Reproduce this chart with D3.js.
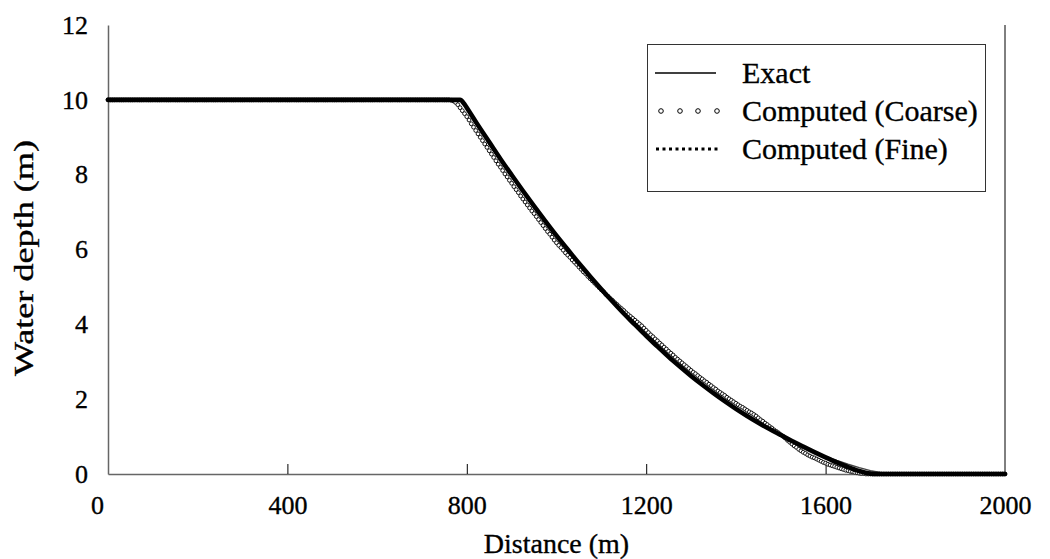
<!DOCTYPE html>
<html>
<head>
<meta charset="utf-8">
<script src="https://cdn.jsdelivr.net/npm/d3@7"></script>
<style>
  body { margin: 0; background: #fff; }
  svg { display: block; }
  text { font-family: "Liberation Serif", "Times New Roman", Times, serif; }
</style>
</head>
<body>
<svg id="drawing_region"></svg>
<script>
// x ticks / y ticks
const xTicks = [0, 400, 800, 1200, 1600, 2000];
const yTicks = [0, 2, 4, 6, 8, 10, 12];

// exact solution (thin line)
const exactX = [0, 789, 800, 825, 850, 875, 900, 925, 950, 975, 1000, 1025, 1050, 1075, 1100, 1125, 1150, 1175, 1200, 1225, 1250, 1275, 1300, 1325, 1350, 1375, 1400, 1425, 1450, 1475, 1500, 1525, 1550, 1575, 1600, 1625, 1650, 1675, 1700, 1725, 1748, 2000];
const exactH = [10, 10, 9.79, 9.32, 8.87, 8.42, 7.99, 7.57, 7.16, 6.76, 6.37, 6.00, 5.63, 5.28, 4.94, 4.61, 4.29, 3.99, 3.69, 3.41, 3.13, 2.87, 2.62, 2.385, 2.16, 1.945, 1.74, 1.55, 1.37, 1.20, 1.04, 0.88, 0.73, 0.59, 0.47, 0.36, 0.26, 0.17, 0.09, 0.035, 0, 0];

// computed, fine grid (dense black dots -> thick band)
const fineX = [0, 785, 795, 800, 825, 850, 875, 900, 925, 950, 975, 1000, 1025, 1050, 1075, 1100, 1125, 1150, 1175, 1200, 1225, 1250, 1275, 1300, 1325, 1350, 1375, 1400, 1425, 1450, 1475, 1500, 1525, 1550, 1575, 1600, 1625, 1650, 1675, 1700, 1710, 2000];
const fineH = [10, 10, 9.88, 9.79, 9.32, 8.87, 8.42, 7.99, 7.57, 7.16, 6.76, 6.37, 6.00, 5.63, 5.28, 4.94, 4.61, 4.29, 3.99, 3.69, 3.41, 3.13, 2.87, 2.62, 2.385, 2.16, 1.945, 1.74, 1.55, 1.37, 1.20, 1.04, 0.88, 0.73, 0.585, 0.445, 0.31, 0.185, 0.08, 0.01, 0, 0];

// computed, coarse grid: one value every 5 m from 0 to 2000
const coarseDx = 5;
const coarseH = [
  10, 10, 10, 10, 10, 10, 10, 10, 10, 10,   // 0
  10, 10, 10, 10, 10, 10, 10, 10, 10, 10,   // 50
  10, 10, 10, 10, 10, 10, 10, 10, 10, 10,   // 100
  10, 10, 10, 10, 10, 10, 10, 10, 10, 10,   // 150
  10, 10, 10, 10, 10, 10, 10, 10, 10, 10,   // 200
  10, 10, 10, 10, 10, 10, 10, 10, 10, 10,   // 250
  10, 10, 10, 10, 10, 10, 10, 10, 10, 10,   // 300
  10, 10, 10, 10, 10, 10, 10, 10, 10, 10,   // 350
  10, 10, 10, 10, 10, 10, 10, 10, 10, 10,   // 400
  10, 10, 10, 10, 10, 10, 10, 10, 10, 10,   // 450
  10, 10, 10, 10, 10, 10, 10, 10, 10, 10,   // 500
  10, 10, 10, 10, 10, 10, 10, 10, 10, 10,   // 550
  10, 10, 10, 10, 10, 10, 10, 10, 10, 10,   // 600
  10, 10, 10, 10, 10, 10, 10, 10, 10, 10,   // 650
  10, 10, 10, 10, 10, 10, 10, 10, 10, 10,   // 700
  10, 10, 10, 9.99, 9.97, 9.93, 9.87, 9.79, 9.71, 9.63,   // 750
  9.55, 9.46, 9.36, 9.27, 9.18, 9.09, 9.00, 8.91, 8.82, 8.73,   // 800
  8.64, 8.55, 8.46, 8.37, 8.28, 8.20, 8.11, 8.02, 7.94, 7.85,   // 850
  7.77, 7.68, 7.60, 7.52, 7.43, 7.35, 7.27, 7.19, 7.11, 7.03,   // 900
  6.96, 6.88, 6.80, 6.72, 6.64, 6.56, 6.48, 6.41, 6.33, 6.25,   // 950
  6.18, 6.11, 6.05, 5.98, 5.91, 5.85, 5.79, 5.72, 5.66, 5.60,   // 1000
  5.53, 5.47, 5.40, 5.35, 5.28, 5.22, 5.16, 5.10, 5.04, 4.98,   // 1050
  4.92, 4.87, 4.80, 4.75, 4.69, 4.64, 4.58, 4.53, 4.47, 4.42,   // 1100
  4.37, 4.31, 4.26, 4.21, 4.16, 4.11, 4.06, 4.01, 3.96, 3.90,   // 1150
  3.84, 3.78, 3.72, 3.67, 3.61, 3.56, 3.50, 3.45, 3.39, 3.34,   // 1200
  3.28, 3.23, 3.18, 3.12, 3.07, 3.02, 2.97, 2.92, 2.87, 2.82,   // 1250
  2.77, 2.72, 2.68, 2.63, 2.58, 2.54, 2.49, 2.45, 2.40, 2.36,   // 1300
  2.31, 2.27, 2.22, 2.18, 2.14, 2.10, 2.05, 2.01, 1.97, 1.93,   // 1350
  1.89, 1.85, 1.81, 1.78, 1.74, 1.70, 1.66, 1.63, 1.59, 1.55,   // 1400
  1.50, 1.45, 1.41, 1.36, 1.32, 1.27, 1.23, 1.18, 1.14, 1.10,   // 1450
  1.05, 1.01, 0.96, 0.90, 0.85, 0.80, 0.75, 0.71, 0.66, 0.62,   // 1500
  0.58, 0.55, 0.51, 0.48, 0.45, 0.43, 0.40, 0.37, 0.34, 0.31,   // 1550
  0.29, 0.26, 0.24, 0.22, 0.20, 0.18, 0.16, 0.14, 0.12, 0.10,   // 1600
  0.09, 0.07, 0.06, 0.04, 0.03, 0.02, 0.01, 0.01, 0, 0,   // 1650
  0, 0, 0, 0, 0, 0, 0, 0, 0, 0,   // 1700
  0, 0, 0, 0, 0, 0, 0, 0, 0, 0,   // 1750
  0, 0, 0, 0, 0, 0, 0, 0, 0, 0,   // 1800
  0, 0, 0, 0, 0, 0, 0, 0, 0, 0,   // 1850
  0, 0, 0, 0, 0, 0, 0, 0, 0, 0,   // 1900
  0, 0, 0, 0, 0, 0, 0, 0, 0, 0,   // 1950
  0                                // 2000
];

const legendLabels = ["Exact", "Computed (Coarse)", "Computed (Fine)"];

const FONT = '"Liberation Serif", "Times New Roman", Times, serif';

const config = {
  width: 1050,
  height: 559,
  margin: {top: 25, right: 45, bottom: 85, left: 108}
};

const svg = d3.select('#drawing_region')
  .attr('width', config.width)
  .attr('height', config.height)
  .attr('font-family', FONT);

const inner_width = config.width - config.margin.left - config.margin.right;
const inner_height = config.height - config.margin.top - config.margin.bottom;

const chart = svg.append('g')
  .attr('transform', `translate(${config.margin.left}, ${config.margin.top})`);

const xscale = d3.scaleLinear().domain([0, 2000]).range([0, inner_width]);
const yscale = d3.scaleLinear().domain([0, 12]).range([inner_height, 0]);

// axes, x ticks pointing inward
const xaxis = d3.axisBottom(xscale).tickValues(xTicks).tickFormat(d3.format('d'))
  .tickSize(-10).tickSizeOuter(0).tickPadding(22);
const yaxis = d3.axisLeft(yscale).tickValues(yTicks).tickFormat(d3.format('d'))
  .tickSize(0).tickSizeOuter(0).tickPadding(20);

const xaxis_group = chart.append('g')
  .attr('transform', `translate(0, ${inner_height})`)
  .call(xaxis);
const yaxis_group = chart.append('g').call(yaxis);

[xaxis_group, yaxis_group].forEach(g => {
  g.attr('font-family', FONT).attr('font-size', 26);
  g.select('.domain').attr('stroke', '#666').attr('stroke-width', 1.5);
  g.selectAll('.tick line').attr('stroke', '#000').attr('stroke-width', 1);
  g.selectAll('.tick text').attr('fill', '#000')
    .attr('stroke', '#000').attr('stroke-width', 0.35);
});
xaxis_group.selectAll('.tick line').filter(d => d === 0 || d === 2000).remove();
xaxis_group.selectAll('.tick text').filter(d => d === 0).attr('dx', -11);

// right frame line
chart.append('line')
  .attr('x1', xscale(2000)).attr('x2', xscale(2000))
  .attr('y1', 0).attr('y2', inner_height)
  .attr('stroke', '#000').attr('stroke-width', 1);

// coarse circles
const coarse = coarseH.map((h, i) => ({x: i * coarseDx, h: h}));
chart.append('g').selectAll('circle')
  .data(coarse).enter()
  .append('circle')
  .attr('cx', d => xscale(d.x))
  .attr('cy', d => yscale(d.h))
  .attr('r', 1.9)
  .attr('fill', '#fff')
  .attr('stroke', '#111')
  .attr('stroke-width', 1);

// exact line
const exactLine = d3.line().x(d => xscale(d[0])).y(d => yscale(d[1]));
chart.append('path')
  .datum(d3.zip(exactX, exactH))
  .attr('d', exactLine)
  .attr('fill', 'none')
  .attr('stroke', '#444')
  .attr('stroke-width', 1.5);

// fine result
const fineLine = d3.line().x(d => xscale(d[0])).y(d => yscale(d[1])).curve(d3.curveMonotoneX);
chart.append('path')
  .datum(d3.zip(fineX, fineH))
  .attr('d', fineLine)
  .attr('fill', 'none')
  .attr('stroke', '#000')
  .attr('stroke-width', 4.6)
  .attr('stroke-linecap', 'round')
  .attr('stroke-linejoin', 'round');

// axis titles
svg.append('text')
  .attr('x', config.margin.left + inner_width / 2)
  .attr('y', 553)
  .attr('text-anchor', 'middle')
  .attr('font-size', 28)
  .attr('stroke', '#000').attr('stroke-width', 0.35)
  .text('Distance (m)');

svg.append('text')
  .attr('transform', 'rotate(-90)')
  .attr('x', -258)
  .attr('y', 33)
  .attr('text-anchor', 'middle')
  .attr('font-size', 27)
  .attr('textLength', 236)
  .attr('lengthAdjust', 'spacingAndGlyphs')
  .attr('stroke', '#000').attr('stroke-width', 0.35)
  .text('Water depth (m)');

// legend
const legend = svg.append('g');
legend.append('rect')
  .attr('x', 647.5).attr('y', 44.5)
  .attr('width', 338).attr('height', 147)
  .attr('fill', '#fff').attr('stroke', '#333').attr('stroke-width', 1);

const rowY = [73, 111, 149];
legend.selectAll('text.lab')
  .data(legendLabels).enter()
  .append('text')
  .attr('class', 'lab')
  .attr('x', 742)
  .attr('y', (d, i) => rowY[i] + 10)
  .attr('font-size', 30)
  .attr('stroke', '#000').attr('stroke-width', 0.35)
  .text(d => d);

legend.append('line')
  .attr('x1', 655).attr('x2', 716)
  .attr('y1', rowY[0]).attr('y2', rowY[0])
  .attr('stroke', '#000').attr('stroke-width', 1.5);

legend.selectAll('circle.ls')
  .data([661, 680, 698, 717]).enter()
  .append('circle')
  .attr('class', 'ls')
  .attr('cx', d => d).attr('cy', rowY[1])
  .attr('r', 2.3)
  .attr('fill', '#fff').attr('stroke', '#000').attr('stroke-width', 1);

legend.append('line')
  .attr('x1', 656).attr('x2', 718)
  .attr('y1', rowY[2]).attr('y2', rowY[2])
  .attr('stroke', '#000').attr('stroke-width', 3)
  .attr('stroke-dasharray', '3 3.5');
</script>
</body>
</html>
